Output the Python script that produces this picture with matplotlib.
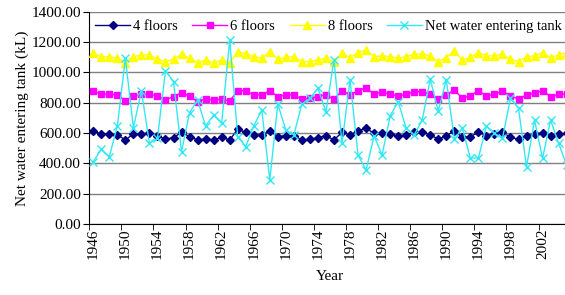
import numpy as np
import matplotlib
matplotlib.use('Agg')
import matplotlib.pyplot as plt

plt.rcParams['font.family'] = ['Liberation Serif', 'DejaVu Serif']

# ── Data ───────────────────────────────────────────────────────────────
years = list(range(1946, 2006))

floors4 = [614, 594, 594, 588, 555, 594, 594, 599, 581, 561, 570, 605, 577, 555, 561,
           555, 572, 555, 625, 605, 588, 588, 614, 577, 583, 583,
           555, 559, 570, 583, 555, 605, 588, 616, 632, 599, 599, 594, 581, 588,
           605, 605, 588, 561, 581, 616, 572, 577, 605, 583, 594, 605, 572, 559,
           581, 592, 603, 583, 592, 599]

floors6 = [877, 855, 855, 851, 813, 846, 855, 855, 846, 818, 840, 866, 844, 807, 824,
           818, 824, 811, 879, 877, 851, 851, 879, 840, 851, 851,
           822, 829, 840, 851, 822, 879, 851, 879, 899, 855, 873, 855, 844, 855,
           873, 873, 855, 824, 851, 884, 829, 846, 879, 844, 855, 877, 844, 824,
           851, 862, 879, 840, 855, 857]

floors8 = [1125, 1103, 1103, 1092, 1063, 1103, 1114, 1114, 1086, 1070, 1086, 1119, 1092,
           1063, 1081, 1063, 1081, 1063, 1136, 1121, 1103, 1092, 1136, 1086, 1099, 1103,
           1070, 1070, 1081, 1092, 1070, 1125, 1097, 1130, 1147, 1103, 1108, 1103, 1092,
           1103, 1119, 1121, 1108, 1070, 1097, 1141, 1081, 1099, 1130, 1108, 1108, 1119,
           1086, 1070, 1103, 1108, 1130, 1097, 1114, 1130]

net_water = [412, 493, 445, 647, 1092, 636, 877, 533, 566, 1011, 938, 478, 734, 818, 647,
             719, 664, 1213, 577, 511, 647, 752, 292, 790, 621, 588, 790, 829, 895, 740,
             1081, 533, 950, 456, 357, 581, 456, 713, 807, 632, 588, 686, 954, 745,
             950, 560, 632, 436, 436, 647, 599, 566, 829, 763, 379, 686, 434, 686, 533, 390]

tick_years = list(range(1946, 2006, 4))

# ── Figure ──────────────────────────────────────────────────────────────
fig = plt.figure(figsize=(5.65, 2.95), dpi=100)
ax = fig.add_axes([0.158, 0.2397, 0.852, 0.7213])

ax.plot(years, floors4, color="#000080", marker="D", markersize=4, lw=1,
        label="4 floors", zorder=3)
ax.plot(years, floors6, color="#FF00FF", marker="s", markersize=4.5, lw=1,
        label="6 floors", zorder=3)
ax.plot(years, floors8, color="#FFFF00", marker="^", markersize=6, lw=1,
        label="8 floors", zorder=3)
ax.plot(years, net_water, color="#33E8F5", marker="x", markersize=6, lw=1,
        mew=1, label="Net water entering tank", zorder=4)

ax.set_xlim(1945.5, 2005.5)
ax.set_ylim(0, 1400)
ax.set_yticks(np.arange(0, 1401, 200))
ax.set_yticklabels([f"{v:.2f}" for v in np.arange(0, 1401, 200)], fontsize=11)
ax.set_xticks(tick_years)
ax.set_xticklabels([str(y) for y in tick_years], rotation=90, fontsize=11)
ax.tick_params(axis="x", length=0, pad=3)
ax.set_xticks(np.arange(1945.5, 2006, 4), minor=True)
ax.tick_params(axis="x", which="minor", length=4, direction="out")
ax.tick_params(axis="y", length=4, direction="out", pad=2)

ax.yaxis.grid(True, color="#808080", linewidth=1)
ax.set_axisbelow(True)
for s in ["top", "right"]:
    ax.spines[s].set_visible(False)
ax.spines["left"].set_color("black")
ax.spines["bottom"].set_color("black")

ax.set_ylabel("Net water entering tank (kL)", fontsize=11, labelpad=2)
ax.set_xlabel("Year", fontsize=11, labelpad=8)

ax.legend(loc="center left", bbox_to_anchor=(0.0, 0.931), ncol=4, frameon=False,
          fontsize=10.5, handlelength=2.4, handletextpad=0.2, columnspacing=1.0,
          borderaxespad=0.2, borderpad=0.2)

fig.savefig("out.png", dpi=100)
